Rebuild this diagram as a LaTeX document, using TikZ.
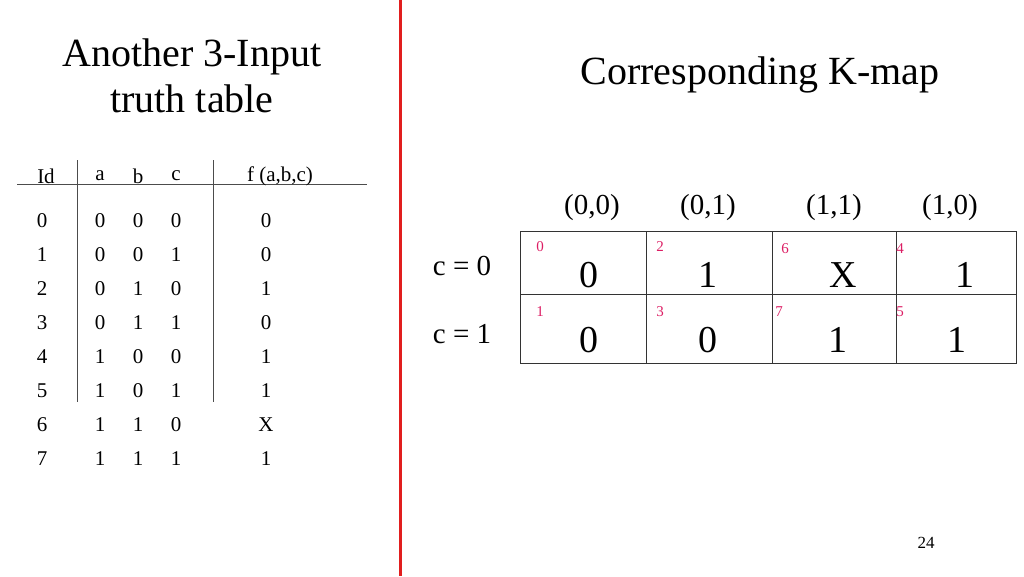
\documentclass[tikz,border=0pt]{standalone}
\usepackage{fontspec}
\setmainfont{Liberation Serif}
\definecolor{idx}{RGB}{220,30,100}
\definecolor{redl}{RGB}{225,30,30}
\begin{document}
\begin{tikzpicture}[x=1pt,y=-1pt,
  tt/.style={font=\fontsize{21}{21}\selectfont,inner sep=0},
  ttl/.style={font=\fontsize{40}{46}\selectfont,align=center,inner sep=0},
  hd/.style={font=\fontsize{29}{29}\selectfont,inner sep=0},
  val/.style={font=\fontsize{38}{38}\selectfont,inner sep=0},
  ix/.style={font=\fontsize{15}{15}\selectfont,text=idx,inner sep=0},
  cell/.style={draw=black!80,line width=1pt,minimum width=124pt,minimum height=67pt,inner sep=0}]
\useasboundingbox (0,0) rectangle (1024,576);
\draw[redl,line width=3pt] (400,0) -- (400,576);
\node[ttl] (t1) at (192,76) {Another 3-Input\\truth table};
\node[ttl] (t2) at (760,75) {Corresponding K-map};
% table
\draw[black!70,line width=1pt] (17,184) -- (367,184);
\draw[black!70,line width=1pt] (77,160) -- (77,402);
\draw[black!70,line width=1pt] (213,160) -- (213,402);
\node[tt] (hid) at (46,176) {Id};
\node[tt] (ha) at (100,176) {a};
\node[tt] (hb) at (138,176) {b};
\node[tt] (hc) at (176,176) {c};
\node[tt] (hf) at (280,176) {f (a,b,c)};
\foreach \i/\a/\b/\c/\f in {0/0/0/0/0,1/0/0/1/0,2/0/1/0/1,3/0/1/1/0,4/1/0/0/1,5/1/0/1/1,6/1/1/0/X,7/1/1/1/1}{
  \node[tt] (r\i id) at (42,221+34*\i) {\i};
  \node[tt] (r\i a) at (100,221+34*\i) {\a};
  \node[tt] (r\i b) at (138,221+34*\i) {\b};
  \node[tt] (r\i c) at (176,221+34*\i) {\c};
  \node[tt] (r\i f) at (266,221+34*\i) {\f};
}
% kmap
\node[hd] (k00) at (592,208) {(0,0)};
\node[hd] (k01) at (708,208) {(0,1)};
\node[hd] (k11) at (834,208) {(1,1)};
\node[hd] (k10) at (950,208) {(1,0)};
\node[hd] (rc0) at (462,266) {c = 0};
\node[hd] (rc1) at (462,334) {c = 1};
\draw[black!80,line width=1pt] (520,231) rectangle (1016,363);
\draw[black!80,line width=1pt] (520,294) -- (1016,294);
\foreach \x in {646,772,896} \draw[black!80,line width=1pt] (\x,231) -- (\x,363);
\foreach \n/\x/\y in {0/540/247,2/660/247,6/785/249,4/900/249,1/540/312,3/660/312,7/779/312,5/900/312}
  \node[ix] (ix\n) at (\x,\y) {\n};
\foreach \n/\v/\x/\y in {a/0/589/275,b/1/708/275,c/X/843/275,d/1/965/275,e/0/589/340,f/0/708/340,g/1/838/340,h/1/957/340}
  \node[val] (v\n) at (\x,\y) {\v};
\node[font=\fontsize{17}{17}\selectfont,inner sep=0] (pg) at (926,543) {24};
\end{tikzpicture}
\end{document}
